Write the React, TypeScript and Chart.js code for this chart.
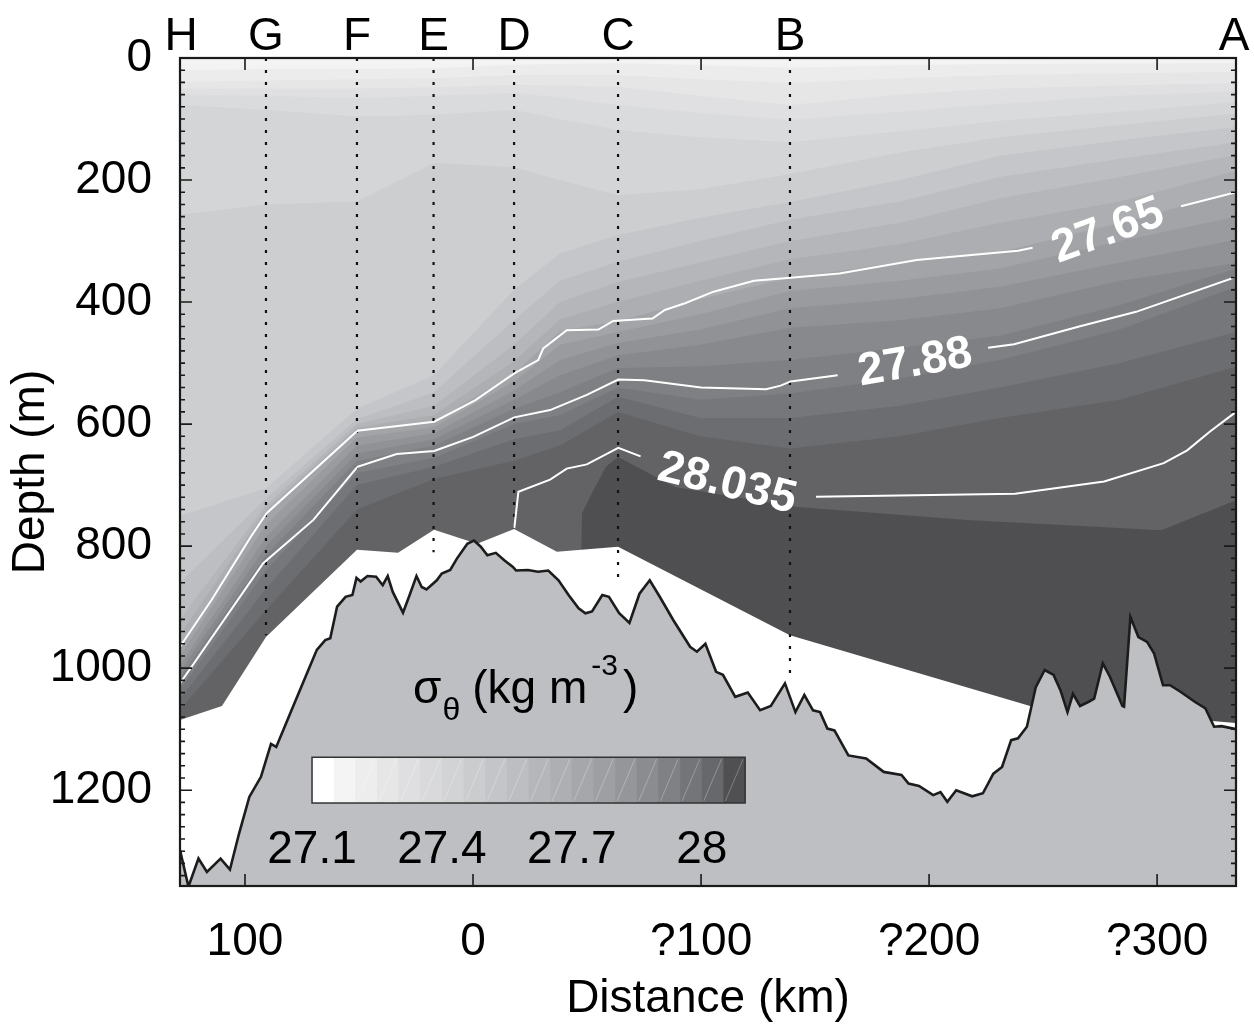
import { useEffect, useRef } from 'react';
import { Chart, registerables } from 'chart.js';

Chart.register(...registerables);

const FONT = '"Liberation Sans", Arial, Helvetica, sans-serif';

// ---------- axes ----------
const X_MIN_KM = -128.5;
const X_MAX_KM = 334.6;
const DEPTH_MAX = 1357;
const xTickKm = [-100, 0, 100, 200, 300];
const xTickLabels = ['100', '0', '?100', '?200', '?300'];
const yTickDepth = [0, 200, 400, 600, 800, 1000, 1200];
const yMinorStep = 20;

// ---------- stations ----------
const stationNames = ['H', 'G', 'F', 'E', 'D', 'C', 'B', 'A'];
const stationKm = [-128.5, -90.8, -50.9, -17.3, 18.0, 63.6, 139.0, 334.6];
const castEndDepth = [0, 946, 803, 810, 774, 851, 1020, 0];

// ---------- filled sigma-theta bands (boundary depths per column) ----------
const colKm = [-128.5, -90.8, -50.9, -17.1, 18.0, 38.2, 63.6, 99.6, 139.0, 187.3, 231.1, 283.8, 334.6];
const b1 = [20, 18, 18, 17, 11, 10, 8, 12, 16, 12, 10, 9, 8];
const b2 = [39, 37, 35, 33, 28, 28, 28, 35, 41, 33, 28, 25, 23];
const b3 = [50, 50, 50, 48, 44, 45, 47, 62, 77, 60, 50, 45, 41];
const b4 = [60, 62, 66, 62, 57, 65, 77, 90, 101, 88, 75, 62, 55];
const b5 = [77, 85, 96, 93, 85, 100, 118, 130, 138, 120, 103, 88, 72];
const b6 = [257, 240, 235, 172, 179, 200, 225, 215, 190, 155, 130, 110, 91];
const b7 = [750, 705, 575, 520, 380, 320, 290, 262, 236, 200, 160, 135, 113];
const b8 = [860, 722, 592, 548, 430, 365, 334, 300, 265, 235, 195, 165, 138];
const b9 = [920, 733, 600, 570, 470, 400, 367, 335, 300, 270, 230, 195, 159];
const b10 = [945, 740, 606, 585, 497, 428, 400, 365, 330, 305, 270, 235, 185];
const b11 = [965, 746, 611, 596, 517, 448, 431, 395, 360, 335, 318, 270, 219];
const b12 = [980, 765, 622, 605, 530, 470, 449, 420, 382, 365, 345, 300, 260];
const b13 = [995, 785, 635, 615, 545, 495, 467, 445, 410, 395, 375, 335, 298];
const b14 = [1005, 800, 648, 625, 560, 520, 487, 470, 442, 430, 410, 365, 336];
const b15 = [1015, 815, 660, 635, 575, 548, 508, 505, 495, 475, 455, 405, 345];
const b16 = [1035, 840, 680, 655, 600, 585, 540, 560, 550, 525, 495, 445, 375];
const b17 = [1050, 870, 700, 670, 625, 610, 555, 590, 590, 570, 540, 500, 449];
const b18 = [1068, 905, 740, 690, 660, 635, 580, 620, 640, 620, 590, 560, 506];
const bandBoundaries = [b1, b2, b3, b4, b5, b6, b7, b8, b9, b10, b11, b12, b13, b14, b15, b16, b17, b18];
const deepKm = [44.7, 47.8, 52.2, 58.3, 63.6, 88.6, 139.5, 216.7, 301.8, 334.6];
const deepDepth = [1400, 746, 713, 670, 654, 703, 735, 757, 774, 725];
const bandColors = [
  '#f3f3f3', '#ececed', '#e6e6e7', '#e0e0e2', '#dadbdd', '#d4d5d7', '#cdced0',
  '#c5c6c9', '#bdbec1', '#b5b6b9', '#adaeb1', '#a3a4a7', '#9a9b9e', '#919295',
  '#88898c', '#7f8083', '#76777a', '#6c6d70', '#636366', '#4f4f52',
];

// ---------- lower edge of data ----------
const dataBottomKm = [-128.5, -110.1, -90.8, -50.9, -32.9, -17.1, 1.8, 18.0, 36.8, 63.6, 139.0, 244.3, 334.6];
const dataBottomDepth = [1085, 1062, 949, 806, 811, 773, 796, 772, 809, 801, 946, 1062, 1090];

// ---------- bottom topography ----------
const topoKm = [
  -128.5, -124.8, -120.4, -116.7, -110.7, -106.6, -102.6, -98.1, -93.0, -88.6, -86.3, -82.6, -79.6,
  -72.9, -68.5, -64.8, -62.6, -59.6, -55.9, -52.9, -51.1, -49.3, -46.3, -42.5, -39.6, -37.4, -35.2,
  -30.7, -27.8, -24.8, -22.5, -20.4, -15.9, -13.7, -10.0, -7.0, -2.5, 0.4, 3.4, 6.3, 10.0, 13.7, 17.5,
  18.9, 24.1, 28.5, 33.0, 37.5, 41.9, 46.3, 49.3, 52.2, 56.7, 59.6, 64.1, 68.6, 73.0, 77.5, 81.9, 87.8,
  95.2, 98.2, 101.9, 106.6, 109.6, 115.0, 120.5, 125.9, 130.6, 136.8, 141.4, 145.3, 149.1, 152.2, 155.4,
  158.5, 164.6, 172.4, 180.1, 187.9, 191.0, 195.6, 201.8, 205.0, 208.0, 211.9, 218.9, 223.6, 228.2,
  232.0, 236.0, 239.0, 242.9, 246.8, 250.7, 254.6, 257.6, 260.7, 263.1, 266.2, 270.0, 272.4, 276.2,
  279.3, 284.8, 285.5, 288.3, 291.8, 295.6, 298.7, 302.6, 305.7, 310.4, 316.5, 321.2, 325.0, 328.2, 334.6,
];
const topoDepth = [
  1298, 1358, 1312, 1334, 1312, 1330, 1271, 1211, 1178, 1124, 1129, 1096, 1069,
  1009, 970, 954, 951, 899, 883, 880, 852, 858, 849, 850, 864, 849, 875,
  909, 880, 849, 867, 871, 856, 845, 839, 820, 796, 791, 801, 815, 811, 823, 834,
  840, 839, 842, 840, 856, 880, 902, 910, 907, 880, 883, 910, 926, 878, 856, 883, 921,
  965, 973, 960, 1006, 1011, 1047, 1040, 1069, 1062, 1025, 1072, 1044, 1069, 1072, 1099,
  1102, 1143, 1148, 1170, 1175, 1189, 1193, 1208, 1203, 1219, 1200, 1210, 1205, 1173,
  1162, 1118, 1115, 1096, 1031, 1003, 1011, 1036, 1072, 1042, 1062, 1055, 1050, 992,
  1014, 1062, 1063, 916, 949, 957, 976, 1028, 1028, 1039, 1055, 1066, 1096, 1095, 1100,
];

// ---------- labelled isopycnals (white lines) ----------
const iso2765aKm = [-128.5, -114.6, -97.5, -90.5, -50.7, -17.0, 0.9, 18.1, 28.6, 30.8, 41.1, 55.0, 61.5, 73.2, 78.7, 84.1, 93.0, 105.5, 123.2, 139.3, 160.7, 194.6, 239.0, 245.4];
const iso2765aDepth = [965, 888, 785, 746, 611, 596, 561, 517, 495, 476, 446, 445, 431, 428, 427, 413, 402, 383, 365, 360, 353, 331, 316, 311];
const iso2765bKm = [310.5, 334.6];
const iso2765bDepth = [243, 220];
const iso2788aKm = [-128.5, -92.0, -70.0, -50.7, -33.5, -17.0, 0.1, 18.1, 33.8, 49.9, 63.7, 75.2, 100.0, 128.5, 134.9, 139.3, 159.9];
const iso2788aDepth = [1025, 828, 757, 670, 649, 644, 621, 589, 577, 552, 527, 528, 540, 543, 537, 530, 520];
const iso2788bKm = [225.9, 237.3, 265.8, 290.8, 334.6];
const iso2788bDepth = [475, 469, 440, 416, 359];
const iso28035aKm = [18.1, 19.9, 33.8, 41.1, 49.9, 63.7, 73.5];
const iso28035aDepth = [771, 711, 691, 673, 666, 639, 653];
const iso28035bKm = [150.4, 237.7, 276.8, 302.9, 313.2, 323.2, 334.6];
const iso28035bDepth = [719, 714, 694, 664, 643, 612, 580];
const contourLabelText = ['27.65', '27.88', '28.035'];
const contourLabelKm = [278.5, 193.9, 111.4];
const contourLabelDepth = [284, 500, 698];
const contourLabelAngle = [-20, -10, 14];

// ---------- colour bar ----------
const colorbarColors = [
  '#ffffff', '#f4f4f4', '#ededee', '#e6e6e7', '#dfdfe1', '#d9d9db', '#d2d3d5', '#cbccce', '#c4c5c8', '#bdbec1',
  '#b5b6b9', '#aeafb2', '#a6a7aa', '#9e9fa2', '#959699', '#8b8c8f', '#808184', '#747578', '#67686b', '#505053',
];
const colorbarMin = 27.1;
const colorbarMax = 28.1;
const colorbarTicks = [27.1, 27.4, 27.7, 28];
const colorbarKm = [-70.6, 119.3];
const colorbarDepth = [1146, 1221];
const colorbarLabelDepth = [1320];
const sigmaLabelKm = [-26.3];
const sigmaLabelDepth = [1057];

const TOPO_COLOR = '#bebfc3';

export default function App() {
  const ref = useRef<HTMLCanvasElement>(null);

  useEffect(() => {
    const canvas = ref.current;
    if (!canvas) return;
    const pts = (xs: number[], ys: number[]) => xs.map((x, i) => ({ x, y: ys[i] }));
    const fillLayer = (xs: number[], ys: number[], color: string) => ({
      data: pts(xs, ys),
      borderColor: 'rgba(0,0,0,0)',
      borderWidth: 1,
      backgroundColor: color,
      fill: { value: 1500 },
      pointRadius: 0,
      tension: 0,
    });
    const lineLayer = (xs: number[], ys: number[], color: string, width: number, dash: number[] = []) => ({
      data: pts(xs, ys),
      borderColor: color,
      borderWidth: width,
      borderDash: dash,
      fill: false,
      pointRadius: 0,
      tension: 0,
    });

    const layers: any[] = [];
    layers.push(fillLayer([X_MIN_KM, X_MAX_KM], [0, 0], bandColors[0]));
    bandBoundaries.forEach((d, i) => layers.push(fillLayer(colKm, d, bandColors[i + 1])));
    layers.push(fillLayer(deepKm, deepDepth, bandColors[19]));
    layers.push(fillLayer(dataBottomKm, dataBottomDepth, '#ffffff'));
    layers.push({ ...fillLayer(topoKm, topoDepth, TOPO_COLOR), borderColor: '#1c1c1c', borderWidth: 2.6 });
    stationKm.forEach((km, i) => {
      if (castEndDepth[i] > 0) layers.push(lineLayer([km, km], [0, castEndDepth[i]], '#111111', 2.2, [3, 9]));
    });
    layers.push(lineLayer(iso2765aKm, iso2765aDepth, '#ffffff', 2));
    layers.push(lineLayer(iso2765bKm, iso2765bDepth, '#ffffff', 2));
    layers.push(lineLayer(iso2788aKm, iso2788aDepth, '#ffffff', 2));
    layers.push(lineLayer(iso2788bKm, iso2788bDepth, '#ffffff', 2));
    layers.push(lineLayer(iso28035aKm, iso28035aDepth, '#ffffff', 2));
    layers.push(lineLayer(iso28035bKm, iso28035bDepth, '#ffffff', 2));
    layers.forEach((l, i) => { l.order = layers.length - i; });

    const overlay = {
      id: 'overlay',
      afterDatasetsDraw(chart: any) {
        const { ctx, chartArea: a } = chart;
        const xs = chart.scales.x;
        const ys = chart.scales.y;
        ctx.save();
        // contour labels
        ctx.fillStyle = '#ffffff';
        ctx.font = `bold 46px ${FONT}`;
        ctx.textAlign = 'center';
        ctx.textBaseline = 'middle';
        contourLabelText.forEach((t, i) => {
          ctx.save();
          ctx.translate(xs.getPixelForValue(contourLabelKm[i]), ys.getPixelForValue(contourLabelDepth[i]));
          ctx.rotate((contourLabelAngle[i] * Math.PI) / 180);
          ctx.fillText(t, 0, 0);
          ctx.restore();
        });
        // colour bar
        const x0 = xs.getPixelForValue(colorbarKm[0]);
        const x1 = xs.getPixelForValue(colorbarKm[1]);
        const y0 = ys.getPixelForValue(colorbarDepth[0]);
        const y1 = ys.getPixelForValue(colorbarDepth[1]);
        const w = (x1 - x0) / colorbarColors.length;
        colorbarColors.forEach((c, i) => {
          ctx.fillStyle = c;
          ctx.fillRect(x0 + i * w, y0, w + 0.6, y1 - y0);
        });
        ctx.strokeStyle = 'rgba(255,255,255,0.35)';
        ctx.lineWidth = 0.8;
        for (let i = 2; i < colorbarColors.length; i++) {
          ctx.beginPath();
          ctx.moveTo(x0 + i * w + 2, y1 - 2);
          ctx.lineTo(x0 + (i + 1) * w - 2, y0 + 2);
          ctx.stroke();
        }
        ctx.strokeStyle = '#333333';
        ctx.lineWidth = 1.5;
        ctx.strokeRect(x0, y0, x1 - x0, y1 - y0);
        ctx.fillStyle = '#000000';
        ctx.font = `46px ${FONT}`;
        ctx.textAlign = 'center';
        ctx.textBaseline = 'alphabetic';
        const lblY = ys.getPixelForValue(colorbarLabelDepth[0]);
        colorbarTicks.forEach((v) => {
          const px = x0 + ((v - colorbarMin) / (colorbarMax - colorbarMin)) * (x1 - x0);
          ctx.fillText(String(v), px, lblY);
        });
        // sigma-theta label
        let sx = xs.getPixelForValue(sigmaLabelKm[0]);
        const by = ys.getPixelForValue(sigmaLabelDepth[0]);
        ctx.textAlign = 'left';
        ctx.font = `46px ${FONT}`;
        ctx.fillText('σ', sx, by);
        sx += ctx.measureText('σ').width + 1;
        ctx.font = `32px ${FONT}`;
        ctx.fillText('θ', sx, by + 17);
        sx += ctx.measureText('θ').width + 12;
        ctx.font = `46px ${FONT}`;
        ctx.fillText('(kg m', sx, by);
        sx += ctx.measureText('(kg m').width + 4;
        ctx.font = `30px ${FONT}`;
        ctx.fillText('-3', sx, by - 28);
        sx += ctx.measureText('-3').width + 5;
        ctx.font = `46px ${FONT}`;
        ctx.fillText(')', sx, by);
        // frame and inward ticks
        ctx.strokeStyle = '#1a1a1a';
        ctx.lineWidth = 1.6;
        yTickDepth.forEach((d) => {
          const py = ys.getPixelForValue(d);
          ctx.beginPath();
          ctx.moveTo(a.left, py); ctx.lineTo(a.left + 12, py);
          ctx.moveTo(a.right, py); ctx.lineTo(a.right - 12, py);
          ctx.stroke();
        });
        for (let d = yMinorStep; d < DEPTH_MAX; d += yMinorStep) {
          if (d % 200 === 0) continue;
          const py = ys.getPixelForValue(d);
          ctx.beginPath();
          ctx.moveTo(a.left, py); ctx.lineTo(a.left + 5, py);
          ctx.moveTo(a.right, py); ctx.lineTo(a.right - 5, py);
          ctx.stroke();
        }
        xTickKm.forEach((k) => {
          const px = xs.getPixelForValue(k);
          ctx.beginPath();
          ctx.moveTo(px, a.top); ctx.lineTo(px, a.top + 12);
          ctx.moveTo(px, a.bottom); ctx.lineTo(px, a.bottom - 12);
          ctx.stroke();
        });
        ctx.lineWidth = 2.2;
        ctx.strokeRect(a.left, a.top, a.right - a.left, a.bottom - a.top);
        ctx.restore();
      },
      afterDraw(chart: any) {
        const { ctx, chartArea: a } = chart;
        const xs = chart.scales.x;
        ctx.save();
        ctx.fillStyle = '#000000';
        ctx.font = `46px ${FONT}`;
        ctx.textAlign = 'center';
        ctx.textBaseline = 'alphabetic';
        stationNames.forEach((n, i) => {
          let px = xs.getPixelForValue(stationKm[i]);
          if (n === 'A') px -= 2;
          if (n === 'H') px += 1;
          ctx.fillText(n, px, a.top - 8);
        });
        ctx.fillText('Distance (km)', (a.left + a.right) / 2, 1012);
        ctx.save();
        ctx.translate(44, (a.top + a.bottom) / 2);
        ctx.rotate(-Math.PI / 2);
        ctx.fillText('Depth (m)', 0, 0);
        ctx.restore();
        ctx.restore();
      },
    };

    const chart = new Chart(canvas, {
      type: 'line',
      data: { datasets: layers },
      options: {
        animation: false,
        responsive: false,
        devicePixelRatio: 1,
        events: [],
        layout: { padding: { top: 58, right: 18, bottom: 0, left: 0 } },
        plugins: { legend: { display: false }, tooltip: { enabled: false } },
        scales: {
          x: {
            type: 'linear',
            min: X_MIN_KM,
            max: X_MAX_KM,
            grid: { display: false },
            border: { display: false },
            afterBuildTicks: (s: any) => { s.ticks = xTickKm.map((v) => ({ value: v })); },
            afterFit: (s: any) => { s.height = 138; },
            ticks: {
              autoSkip: false,
              maxRotation: 0,
              minRotation: 0,
              padding: 21,
              color: '#000000',
              font: { family: FONT, size: 46 },
              callback: (v: any) => xTickLabels[xTickKm.indexOf(Number(v))] ?? '',
            },
          },
          y: {
            type: 'linear',
            min: 0,
            max: DEPTH_MAX,
            reverse: true,
            grid: { display: false },
            border: { display: false },
            afterBuildTicks: (s: any) => { s.ticks = yTickDepth.map((v) => ({ value: v })); },
            afterFit: (s: any) => { s.width = 180; },
            ticks: {
              autoSkip: false,
              padding: 20,
              color: '#000000',
              font: { family: FONT, size: 46 },
              callback: (v: any) => String(v),
            },
          },
        },
      } as any,
      plugins: [overlay],
    });
    return () => chart.destroy();
  }, []);

  return (
    <div style={{ position: 'absolute', left: 0, top: 0, width: 1254, height: 1024, background: '#ffffff' }}>
      <canvas ref={ref} width={1254} height={1024} style={{ display: 'block', width: 1254, height: 1024 }} />
    </div>
  );
}
